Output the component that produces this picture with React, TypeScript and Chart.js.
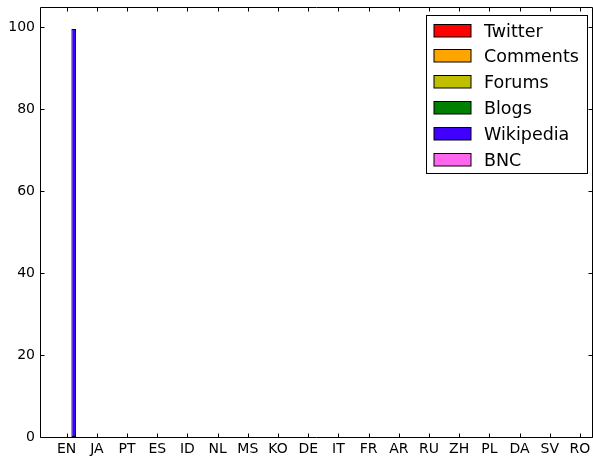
import React, { useEffect, useRef } from "react";
import { Chart, registerables } from "chart.js";

Chart.register(...registerables);

const categories = ["EN", "JA", "PT", "ES", "ID", "NL", "MS", "KO", "DE", "IT", "FR", "AR", "RU", "ZH", "PL", "DA", "SV", "RO"];
const seriesNames = ["Twitter", "Comments", "Forums", "Blogs", "Wikipedia", "BNC"];
const seriesColors = ["#ff0000", "#ffa500", "#bfbf00", "#008000", "#4000ff", "#ff66ee"];
const twitter = [0, 0, 0, 0, 0, 0, 0, 0, 0, 0, 0, 0, 0, 0, 0, 0, 0, 0];
const comments = [0, 0, 0, 0, 0, 0, 0, 0, 0, 0, 0, 0, 0, 0, 0, 0, 0, 0];
const forums = [0, 0, 0, 0, 0, 0, 0, 0, 0, 0, 0, 0, 0, 0, 0, 0, 0, 0];
const blogs = [0, 0, 0, 0, 0, 0, 0, 0, 0, 0, 0, 0, 0, 0, 0, 0, 0, 0];
const wikipedia = [99.6, 0, 0, 0, 0, 0, 0, 0, 0, 0, 0, 0, 0, 0, 0, 0, 0, 0];
const bnc = [0, 0, 0, 0, 0, 0, 0, 0, 0, 0, 0, 0, 0, 0, 0, 0, 0, 0];
const yTicks = [0, 20, 40, 60, 80, 100];

const allSeries = [twitter, comments, forums, blogs, wikipedia, bnc];
const FONT = "'DejaVu Sans', 'Bitstream Vera Sans', sans-serif";

const framePlugin = {
  id: "mplFrame",
  afterDatasetsDraw(chart: any) {
    const ctx = chart.ctx;
    const { left, right, top, bottom } = chart.chartArea;
    const xs = chart.scales.x;
    const ys = chart.scales.y;
    const L = Math.round(left) + 0.5;
    const R = Math.round(right) + 0.5;
    const T = Math.round(top) + 0.5;
    const B = Math.round(bottom) + 0.5;
    ctx.save();
    ctx.strokeStyle = "#000";
    ctx.lineWidth = 1;
    ctx.beginPath();
    ctx.rect(L, T, R - L, B - T);
    ctx.stroke();
    const tl = 4;
    ctx.beginPath();
    xs.ticks.forEach((t: any) => {
      const px = Math.round(xs.getPixelForValue(t.value)) + 0.5;
      ctx.moveTo(px, B);
      ctx.lineTo(px, B - tl);
      ctx.moveTo(px, T);
      ctx.lineTo(px, T + tl);
    });
    ys.ticks.forEach((t: any) => {
      const py = Math.round(ys.getPixelForValue(t.value)) + 0.5;
      ctx.moveTo(L, py);
      ctx.lineTo(L + tl, py);
      ctx.moveTo(R, py);
      ctx.lineTo(R - tl, py);
    });
    ctx.stroke();

    // legend
    const boxR = R - 5;
    const boxL = boxR - 161;
    const boxT = T + 8;
    const boxB = boxT + 158;
    ctx.fillStyle = "#fff";
    ctx.fillRect(boxL, boxT, boxR - boxL, boxB - boxT);
    ctx.strokeRect(boxL, boxT, boxR - boxL, boxB - boxT);
    ctx.font = `17.5px ${FONT}`;
    ctx.textAlign = "left";
    ctx.textBaseline = "alphabetic";
    chart.data.datasets.forEach((ds: any, i: number) => {
      const cy = boxT + 14.5 + i * 25.8;
      const sx = boxL + 7.5;
      const sy = Math.round(cy - 6.5) + 0.5;
      ctx.fillStyle = ds.backgroundColor;
      ctx.fillRect(sx, sy, 37, 12.5);
      ctx.strokeStyle = "#000";
      ctx.strokeRect(sx, sy, 37, 12.5);
      ctx.fillStyle = "#000";
      ctx.fillText(ds.label, boxL + 57.5, cy + 6.6);
    });
    ctx.restore();
  },
};

export default function App() {
  const ref = useRef<HTMLCanvasElement | null>(null);
  useEffect(() => {
    document.body.style.margin = "0";
    const canvas = ref.current;
    if (!canvas) return;
    const chart = new Chart(canvas, {
      type: "bar",
      data: {
        datasets: seriesNames.map((name, i) => ({
          label: name,
          data: allSeries[i].map((v, j) => ({ x: j, y: v })),
          backgroundColor: seriesColors[i],
          borderColor: "#000",
          borderWidth: 1,
          borderSkipped: false,
          categoryPercentage: 0.93,
          barPercentage: 1.0,
        })),
      },
      options: {
        animation: false,
        responsive: false,
        devicePixelRatio: 1,
        layout: { padding: { left: 0, right: 1, top: 7, bottom: 0 } },
        plugins: { legend: { display: false }, tooltip: { enabled: false } },
        scales: {
          x: {
            type: "linear",
            min: -0.884,
            max: 17.4,
            offset: false,
            grid: { display: false, drawTicks: false },
            border: { display: false },
            afterBuildTicks: (scale: any) => {
              scale.ticks = categories.map((_, i) => ({ value: i }));
            },
            afterFit: (scale: any) => {
              scale.height = 20;
              scale.paddingLeft = 0;
              scale.paddingRight = 0;
              scale.paddingTop = 0;
              scale.paddingBottom = 0;
            },
            ticks: {
              autoSkip: false,
              maxRotation: 0,
              padding: 4,
              color: "#000",
              font: { family: FONT, size: 14 },
              callback: (v: any) => categories[v as number] ?? "",
            },
          },
          y: {
            type: "linear",
            min: 0,
            max: 105,
            grid: { display: false, drawTicks: false },
            border: { display: false },
            afterBuildTicks: (scale: any) => {
              scale.ticks = yTicks.map((v) => ({ value: v }));
            },
            afterFit: (scale: any) => {
              scale.width = 40;
              scale.paddingLeft = 0;
              scale.paddingRight = 0;
              scale.paddingTop = 0;
              scale.paddingBottom = 0;
            },
            ticks: {
              padding: 5,
              color: "#000",
              font: { family: FONT, size: 14 },
            },
          },
        },
      },
      plugins: [framePlugin],
    });
    return () => chart.destroy();
  }, []);
  return <canvas ref={ref} width={593} height={457} style={{ display: "block" }} />;
}
